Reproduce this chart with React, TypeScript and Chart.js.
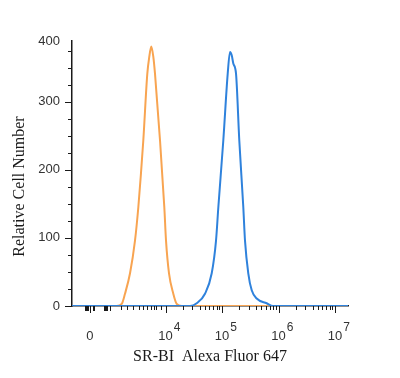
import { useEffect, useRef } from "react";
import { Chart, registerables } from "chart.js";

Chart.register(...registerables);

// Positions on the displayed (biexponential) channel axis: decades sit at 4, 5, 6, 7
const xMin = 2.345;
const xMax = 7.23;
const yMax = 389;

// Isotype control (orange)
const isotypeX = [2.345, 3.136, 3.225, 3.283, 3.372, 3.46, 3.519, 3.566, 3.607, 3.678, 3.713, 3.749, 3.784, 3.814, 3.903, 3.979, 4.009, 4.062, 4.138, 4.198, 4.287, 7.23];
const isotypeY = [0, 0, 3, 18, 48, 96, 145, 195, 243, 341, 366, 381, 366, 341, 243, 145, 96, 48, 18, 3, 0, 0];

// SR-BI stained (blue)
const srbiX = [2.345, 4.434, 4.552, 4.699, 4.818, 4.894, 4.935, 5.023, 5.101, 5.142, 5.172, 5.2, 5.248, 5.306, 5.377, 5.407, 5.465, 5.526, 5.614, 5.791, 5.903, 7.23];
const srbiY = [0, 0, 4, 18, 48, 96, 145, 243, 341, 373, 368, 356, 341, 243, 145, 96, 48, 23, 11, 4, 0, 0];

// x-axis ticks: labels are base + superscript exponent
const xMajorValues = [2.66, 4, 5, 6, 7];
const xMajorBases = ["0", "10", "10", "10", "10"];
const xMajorExponents = ["", "4", "5", "6", "7"];
// dense linear-region ticks around zero
const xZeroClusterValues = [2.575, 2.593, 2.611, 2.628, 2.717, 2.735, 2.912, 2.929, 2.947, 2.965, 3.018];
const xMinorValues = [
  3.212, 3.319, 3.425, 3.531, 3.602, 3.673, 3.743, 3.796, 3.832, 3.92,
  4.301, 4.477, 4.602, 4.699, 4.778, 4.845, 4.903, 4.954,
  5.301, 5.477, 5.602, 5.699, 5.778, 5.845, 5.903, 5.954,
  6.301, 6.477, 6.602, 6.699, 6.778, 6.845, 6.903, 6.954,
];

// y-axis ticks
const yTickValues = [0, 25, 50, 75, 100, 125, 150, 175, 200, 225, 250, 275, 300, 325, 350, 375, yMax];
const yLabelValues = [0, 100, 200, 300, yMax];
const yLabels = ["0", "100", "200", "300", "400"];

const yTitle = "Relative Cell Number";
const xTitle = "SR-BI  Alexa Fluor 647";

const orange = "#F8A451";
const blue = "#2F82DC";
const axisColor = "#1a1a1a";
const sans = '"Liberation Sans", Arial, sans-serif';
const serif = '"Liberation Serif", "Times New Roman", serif';

const axisDecor = {
  id: "axisDecor",
  afterDraw(chart: any) {
    const ctx = chart.ctx;
    const xs = chart.scales.x;
    const ys = chart.scales.y;
    ctx.save();
    // tick marks
    ctx.strokeStyle = axisColor;
    ctx.lineWidth = 1;
    ctx.beginPath();
    xs.ticks.forEach((t: any) => {
      const p = Math.round(xs.getPixelForValue(t.value)) + 0.5;
      const len = xMajorValues.includes(t.value) ? 7 : xZeroClusterValues.includes(t.value) ? 5 : 4;
      ctx.moveTo(p, xs.top);
      ctx.lineTo(p, xs.top + len);
    });
    ys.ticks.forEach((t: any) => {
      if (t.value === yMax) return;
      const p = Math.round(ys.getPixelForValue(t.value)) + 0.5;
      const len = t.value % 100 === 0 ? 7 : 4;
      ctx.moveTo(ys.right, p);
      ctx.lineTo(ys.right - len, p);
    });
    ctx.stroke();

    // x tick labels with raised exponents
    ctx.fillStyle = "#333";
    ctx.textBaseline = "middle";
    xMajorValues.forEach((v, i) => {
      const px = xs.getPixelForValue(v);
      const yBase = xs.top + 30;
      ctx.font = `13px ${sans}`;
      ctx.textAlign = "center";
      ctx.fillText(xMajorBases[i], px, yBase);
      if (xMajorExponents[i]) {
        const w = ctx.measureText(xMajorBases[i]).width;
        ctx.font = `12px ${sans}`;
        ctx.textAlign = "left";
        ctx.fillText(xMajorExponents[i], px + w / 2 + 1, yBase - 8.5);
      }
    });

    // y-axis title
    ctx.fillStyle = "#1a1a1a";
    ctx.font = `16px ${serif}`;
    ctx.textAlign = "center";
    ctx.textBaseline = "middle";
    const cy = (chart.chartArea.top + chart.chartArea.bottom) / 2 + 13;
    ctx.translate(20, cy);
    ctx.rotate(-Math.PI / 2);
    ctx.fillText(yTitle, 0, 0);
    ctx.restore();
  },
};

export default function App() {
  const ref = useRef<HTMLCanvasElement>(null);

  useEffect(() => {
    if (!ref.current) return;
    const chart = new Chart(ref.current, {
      type: "line",
      data: {
        datasets: [
          {
            label: "SR-BI",
            data: srbiX.map((x, i) => ({ x, y: srbiY[i] })),
            borderColor: blue,
            borderWidth: 2,
            pointRadius: 0,
            cubicInterpolationMode: "monotone",
            fill: false,
          },
          {
            label: "Isotype",
            data: isotypeX.map((x, i) => ({ x, y: isotypeY[i] })),
            borderColor: orange,
            borderWidth: 2,
            pointRadius: 0,
            cubicInterpolationMode: "monotone",
            fill: false,
          },
        ],
      },
      plugins: [axisDecor],
      options: {
        responsive: false,
        animation: false,
        layout: { padding: { top: 41, right: 52, left: 0, bottom: 0 } },
        plugins: { legend: { display: false }, tooltip: { enabled: false } },
        scales: {
          x: {
            type: "linear",
            min: xMin,
            max: xMax,
            afterBuildTicks: (s: any) => {
              s.ticks = [...xMajorValues, ...xZeroClusterValues, ...xMinorValues]
                .sort((a, b) => a - b)
                .map((v) => ({ value: v }));
            },
            afterFit: (s: any) => {
              s.height = 72;
            },
            grid: { display: true, drawOnChartArea: false, drawTicks: false },
            border: { display: true, color: axisColor, width: 1.5 },
            ticks: { display: false, autoSkip: false, maxRotation: 0 },
            title: {
              display: true,
              text: xTitle,
              color: "#1a1a1a",
              font: { family: serif, size: 16 },
              padding: { top: 4, bottom: 12 },
            },
          },
          y: {
            type: "linear",
            min: 0,
            max: yMax,
            afterBuildTicks: (s: any) => {
              s.ticks = yTickValues.map((v) => ({ value: v }));
            },
            afterFit: (s: any) => {
              s.width = 72;
            },
            grid: { display: true, drawOnChartArea: false, drawTicks: false },
            border: { display: true, color: axisColor, width: 1.5 },
            ticks: {
              autoSkip: false,
              padding: 12,
              color: "#333",
              font: { family: sans, size: 13 },
              callback: (v: any) => {
                const i = yLabelValues.indexOf(v);
                return i >= 0 ? yLabels[i] : "";
              },
            },
          },
        },
      },
    });
    return () => chart.destroy();
  }, []);

  return (
    <div style={{ position: "absolute", left: 0, top: 0, width: 400, height: 378, background: "#fff" }}>
      <canvas ref={ref} width={400} height={378} style={{ display: "block" }} />
    </div>
  );
}
